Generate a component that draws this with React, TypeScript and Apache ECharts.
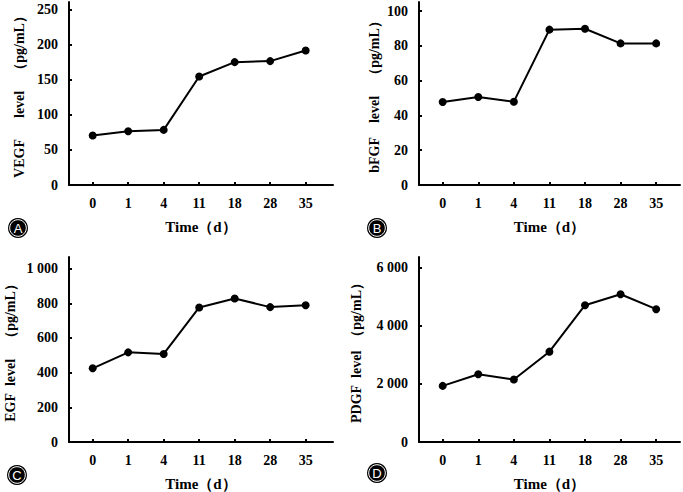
import React, { useEffect, useRef } from "react";
import * as echarts from "echarts";

const days = ["0", "1", "4", "11", "18", "28", "35"];
const vegf = [70.5, 76.7, 78.6, 154.8, 175.2, 176.7, 191.9];
const bfgf = [47.7, 50.6, 47.9, 89.3, 89.8, 81.4, 81.4];
const egf = [425, 517, 508, 776, 828, 778, 789];
const pdgf = [1931, 2331, 2149, 3109, 4709, 5086, 4571];

const vegfTicks = [0, 50, 100, 150, 200, 250];
const bfgfTicks = [0, 20, 40, 60, 80, 100];
const egfTicks = [0, 200, 400, 600, 800, 1000];
const pdgfTicks = [0, 2000, 4000, 6000];

const yNames = [
  "VEGF\u2002\u2002\u2002level\u2002\u2002（pg/mL）",
  "bFGF\u2002\u2002level\u2002\u2002（pg/mL）",
  "EGF\u2002level\u2002\u2002（pg/mL）",
  "PDGF\u2002level\u2002（pg/mL）",
];
const badges = ["A", "B", "C", "D"];

const FONT = "'Liberation Serif', 'Times New Roman', serif";

export default function App() {
  const ref = useRef<HTMLDivElement>(null);
  useEffect(() => {
    if (!ref.current) return;
    const chart = echarts.init(ref.current, null, { renderer: "svg" });
    const fmt = (v: number) => {
      if (v >= 1000) {
        const s = String(v);
        return s.slice(0, s.length - 3) + " " + s.slice(s.length - 3);
      }
      return String(v);
    };
    const panels = [
      { data: vegf, ticks: vegfTicks, max: 261, left: 69, top: 2, width: 264, height: 183, xmin: -0.668, xmax: 6.77, nameGap: 43, badge: [18, 228] },
      { data: bfgf, ticks: bfgfTicks, max: 105.2, left: 419, top: 2, width: 261, height: 183, xmin: -0.666, xmax: 6.67, nameGap: 38, badge: [377, 228] },
      { data: egf, ticks: egfTicks, max: 1067, left: 69, top: 257, width: 264, height: 185.5, xmin: -0.668, xmax: 6.77, nameGap: 52, badge: [17, 475] },
      { data: pdgf, ticks: pdgfTicks, max: 6367, left: 419, top: 257, width: 261, height: 185.5, xmin: -0.666, xmax: 6.67, nameGap: 56, badge: [377, 473] },
    ];
    const idx = days.map((_, i) => i);
    const axisLine = { show: true, onZero: false, lineStyle: { color: "#000", width: 2 } };
    const option: any = {
      animation: false,
      backgroundColor: "#fff",
      grid: panels.map((p) => ({ left: p.left, top: p.top, width: p.width, height: p.height, containLabel: false })),
      xAxis: panels.map((p, k) => ({
        type: "value",
        gridIndex: k,
        min: p.xmin,
        max: p.xmax,
        name: "Time（d）",
        nameLocation: "middle",
        nameGap: 34,
        nameTextStyle: { fontFamily: FONT, fontWeight: "bold", fontSize: 15, color: "#000" },
        axisLine,
        splitLine: { show: false },
        axisTick: { show: true, inside: true, length: 3, customValues: idx, lineStyle: { color: "#000", width: 2 } },
        axisLabel: {
          customValues: idx,
          margin: 11,
          formatter: (v: number) => days[Math.round(v)],
          fontFamily: FONT,
          fontWeight: "bold",
          fontSize: 14,
          color: "#000",
        },
      })),
      yAxis: panels.map((p, k) => ({
        type: "value",
        gridIndex: k,
        min: 0,
        max: p.max,
        name: yNames[k],
        nameLocation: "middle",
        nameGap: p.nameGap,
        nameRotate: 90,
        nameTextStyle: { fontFamily: FONT, fontWeight: "bold", fontSize: 14, color: "#000" },
        axisLine,
        splitLine: { show: false },
        axisTick: { show: true, inside: true, length: 3, customValues: p.ticks, lineStyle: { color: "#000", width: 2 } },
        axisLabel: {
          customValues: p.ticks,
          margin: 11,
          formatter: fmt,
          fontFamily: FONT,
          fontWeight: "bold",
          fontSize: 14,
          color: "#000",
        },
      })),
      series: panels.map((p, k) => ({
        type: "line",
        xAxisIndex: k,
        yAxisIndex: k,
        data: p.data.map((v, i) => [i, v]),
        symbol: "circle",
        symbolSize: 8,
        lineStyle: { color: "#000", width: 2 },
        itemStyle: { color: "#000" },
      })),
      graphic: panels.flatMap((p, k) => [
        { type: "circle", shape: { cx: p.badge[0], cy: p.badge[1], r: 10 }, style: { fill: "#000" } },
        { type: "circle", shape: { cx: p.badge[0], cy: p.badge[1], r: 8.3 }, style: { fill: "none", stroke: "#fff", lineWidth: 1 } },
        {
          type: "text",
          x: p.badge[0],
          y: p.badge[1] + 0.5,
          style: {
            text: badges[k],
            fill: "#fff",
            font: "13px 'Liberation Sans', Arial, sans-serif",
            align: "center",
            verticalAlign: "middle",
          },
        },
      ]),
    };
    chart.setOption(option);
    return () => chart.dispose();
  }, []);
  return (
    <div
      ref={ref}
      style={{ position: "absolute", left: 0, top: 0, width: 683, height: 492, background: "#fff" }}
    />
  );
}
